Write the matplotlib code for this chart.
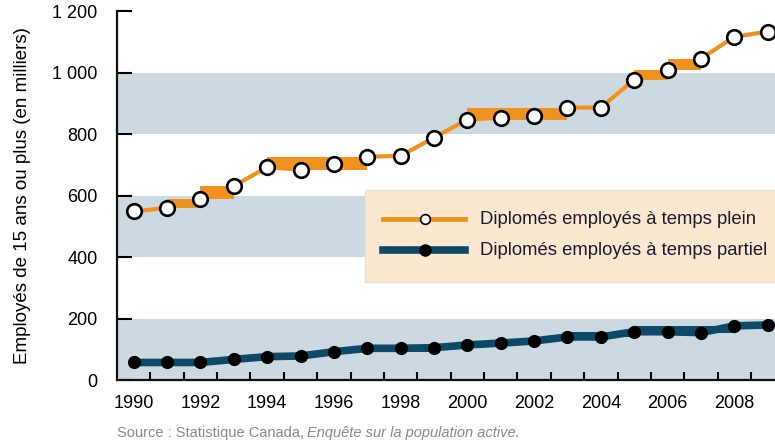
import matplotlib.pyplot as plt
from matplotlib.patches import Rectangle
from matplotlib.lines import Line2D
import numpy as np

plt.rcParams['font.family'] = ['Liberation Sans', 'DejaVu Sans']

#%% data

years = list(range(1990, 2010))
plein = [548, 560, 589, 631, 692, 684, 701, 726, 729, 788,
         847, 853, 858, 886, 886, 977, 1008, 1045, 1116, 1133]
partiel = [57, 57, 57, 67, 76, 78, 92, 103, 103, 105,
           114, 120, 127, 140, 140, 157, 157, 154, 176, 179]

# year spans where the line widens into a block
plein_spans = [(1991, 1992), (1992, 1993), (1994, 1997), (2000, 2003),
               (2005, 2006), (2006, 2007)]
partiel_spans = [(1990, 1993), (1993, 1995), (1996, 1999), (2000, 2001),
                 (2003, 2005), (2005, 2008)]

bands = [(0, 200), (400, 600), (800, 1000)]
yticks = [0, 200, 400, 600, 800, 1000, 1200]
ytick_labels = ['0', '200', '400', '600', '800', '1 000', '1 200']
xtick_labels = [str(y) for y in range(1990, 2009, 2)]

orange = '#f1921f'
dark = '#0d4a67'
grey_band = '#cdd9e1'

#%% figure

fig = plt.figure(figsize=(7.75, 4.44), dpi=100)
ax = fig.add_axes([117/775, 64/444, 658/775, 369/444])

for lo, hi in bands:
    ax.axhspan(lo, hi, color=grey_band, lw=0, zorder=0)


def blocks(vals, spans, color):
    for a, b in spans:
        i, j = years.index(a), years.index(b)
        seg = vals[i:j + 1]
        ax.fill_between([a, b], min(seg), max(seg), color=color, lw=0, zorder=2)


blocks(plein, plein_spans, orange)
blocks(partiel, partiel_spans, dark)

ax.plot(years, plein, color=orange, lw=3, zorder=3, solid_capstyle='butt')
ax.plot(years, partiel, color=dark, lw=5.5, zorder=3, solid_capstyle='butt')
ax.plot(years, plein, 'o', ms=10.5, mfc='white', mec='black', mew=1.9, zorder=4)
ax.plot(years, partiel, 'o', ms=8.5, mfc='black', mec='black', zorder=4)

ax.set_xlim(1989.5, 2009.22)
ax.set_ylim(0, 1200)

ax.set_yticks(yticks)
ax.set_yticklabels(ytick_labels)
ax.set_xticks(range(1990, 2009, 2))
ax.set_xticklabels(xtick_labels)
ax.set_xticks(np.arange(1990.5, 2009, 1), minor=True)

ax.tick_params(axis='y', direction='in', length=11, width=1.5, pad=14,
               labelsize=13, colors='black')
ax.tick_params(axis='x', which='major', length=0, pad=11, labelsize=13)
ax.tick_params(axis='x', which='minor', direction='in', length=6, width=1.5)

for s in ['top', 'right']:
    ax.spines[s].set_visible(False)
for s in ['left', 'bottom']:
    ax.spines[s].set_linewidth(1.6)
    ax.spines[s].set_color('#111111')

ax.set_ylabel('Employés de 15 ans ou plus (en milliers)', fontsize=13.5)
ax.yaxis.set_label_coords(-0.131, 0.5)

# legend box
ax.add_patch(Rectangle((0.377, 0.266), 0.7, 0.249, transform=ax.transAxes,
                       facecolor='#fce8d1', edgecolor='#e6e0d8', lw=1,
                       zorder=5, clip_on=False))
ax.add_line(Line2D([0.404, 0.529], [0.436, 0.436], transform=ax.transAxes,
                   color=orange, lw=3.5, zorder=6))
ax.plot([0.468], [0.436], 'o', transform=ax.transAxes, ms=7, mfc='white',
        mec='black', mew=1.2, zorder=7)
ax.add_line(Line2D([0.404, 0.529], [0.352, 0.352], transform=ax.transAxes,
                   color=dark, lw=5.5, zorder=6))
ax.plot([0.468], [0.352], 'o', transform=ax.transAxes, ms=8, mfc='black',
        mec='black', zorder=7)
ax.text(0.552, 0.436, 'Diplomés employés à temps plein', transform=ax.transAxes,
        fontsize=13.3, va='center', ha='left', color='#1a1a2a', zorder=7)
ax.text(0.552, 0.352, 'Diplomés employés à temps partiel', transform=ax.transAxes,
        fontsize=13.3, va='center', ha='left', color='#1a1a2a', zorder=7,
        clip_on=False)

# source note
src = fig.text(117/775, 1 - 433/444, 'Source : Statistique Canada,', fontsize=10.5,
               color='#8a8a8a', va='center', ha='left')
fig.canvas.draw()
ax.annotate('Enquête sur la population active.', xy=(1, 0.5), xycoords=src,
            xytext=(2, 0), textcoords='offset points',
            fontsize=10.5, color='#8a8a8a', va='center', ha='left', style='italic')

fig.savefig('out.png', dpi=100)
